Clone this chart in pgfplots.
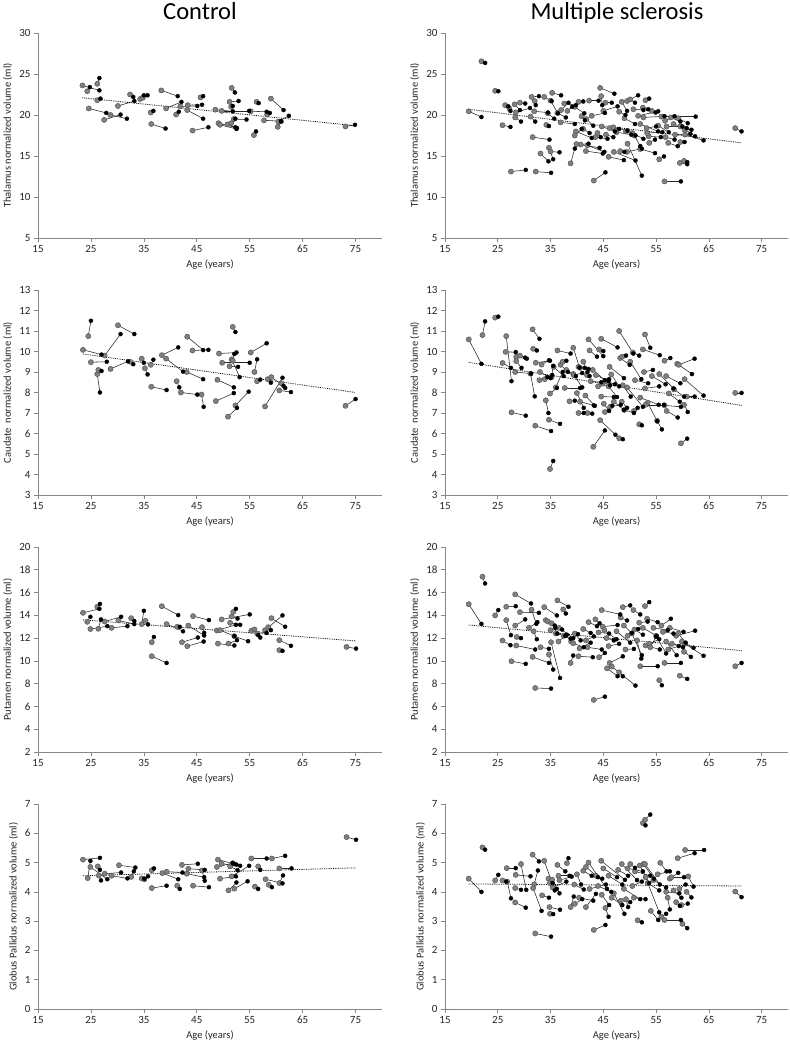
\documentclass[border=0pt]{standalone}
\usepackage{pgfplots}
\usepackage{pgfplotstable}
\pgfplotsset{compat=1.18}
\usepackage{fontspec}
\setmainfont{Carlito}

% a1 v1 (first visit, grey)  a2 v2 (second visit, black)
\pgfplotstableread{
a1 v1 a2 v2
23.4 23.6 26.6 23.0
24.3 22.9 24.8 23.4
24.6 20.8 27.9 20.25
26.2 23.8 26.6 24.5
26.2 21.8 26.8 22.0
27.5 19.4 30.6 20.05
28.7 20.0 31.8 19.55
30.1 21.1 33.2 21.7
32.4 22.5 33.0 22.2
34.3 21.95 35.0 22.4
34.8 22.1 35.7 22.4
36.3 20.3 36.8 20.5
36.4 18.9 39.1 18.35
38.3 23.0 41.4 22.3
39.2 20.8 42.1 21.6
41.1 20.05 41.6 20.4
41.9 21.05 45.1 21.1
43.2 20.6 46.2 19.55
43.3 21.2 46.0 21.25
44.2 18.1 47.2 18.5
45.7 22.15 46.2 22.3
48.5 20.65 51.8 20.45
49.1 19.0 52.3 18.5
49.4 18.8 52.5 18.3
49.7 20.5 54.9 20.5
50.8 18.85 52.6 18.4
51.2 21.6 52.9 21.7
51.5 21.0 51.8 21.1
51.6 23.3 52.2 22.75
51.5 19.0 52.3 19.55
52.0 19.5 54.4 19.45
55.2 20.45 58.2 20.4
55.8 17.55 56.2 18.0
56.3 21.6 56.7 21.45
57.7 19.35 60.9 19.25
58.3 20.05 58.8 20.25
59.0 22.0 61.4 20.6
60.4 19.2 62.4 19.9
60.3 18.55 61.0 19.2
73.1 18.6 74.9 18.8
}\ctT

\pgfplotstableread{
a1 v1 a2 v2
23.5 10.08 27.0 9.85
24.5 10.75 25.0 11.5
25.0 9.48 28.0 9.5
26.2 8.9 26.7 8.0
26.4 9.1 27.0 9.05
27.6 9.8 30.6 10.85
28.7 9.15 32.0 9.52
30.1 11.28 33.2 10.85
32.4 9.5 33.0 9.38
34.6 9.65 35.0 9.45
35.2 9.18 35.7 8.88
36.3 9.35 36.8 9.6
36.4 8.28 39.3 8.12
38.4 9.82 41.5 10.2
39.2 9.65 42.4 9.02
41.2 8.55 41.7 8.25
42.0 8.0 45.1 7.9
43.1 9.0 46.2 8.65
43.2 10.72 46.2 10.07
44.2 10.05 47.2 10.08
45.9 7.9 46.3 7.3
48.6 7.58 52.0 7.97
48.9 8.62 52.0 8.25
49.2 9.9 52.5 9.95
49.8 9.45 55.0 9.45
50.9 6.82 52.6 7.25
51.2 9.28 52.8 9.25
51.6 9.62 53.1 8.75
51.8 11.2 52.3 10.95
51.8 9.55 52.1 9.88
52.3 7.37 54.8 8.04
55.2 9.95 58.2 10.4
55.9 9.0 56.4 9.62
56.4 8.55 57.0 8.63
57.9 7.32 61.2 8.72
58.4 8.65 59.0 8.48
59.1 8.75 61.4 8.32
60.6 8.1 62.8 8.02
61.0 8.45 61.7 8.22
73.1 7.35 75.0 7.68
}\ctC

\pgfplotstableread{
a1 v1 a2 v2
23.5 14.22 26.6 14.57
24.3 13.43 24.9 13.87
24.9 12.8 28.1 13.05
26.2 14.75 26.7 15.0
26.4 12.82 26.9 13.64
27.6 13.46 30.7 13.87
28.9 12.9 31.9 13.05
30.2 13.55 33.2 13.23
32.6 13.75 33.2 13.5
34.6 13.23 35.0 14.4
35.3 13.52 35.8 13.2
36.5 11.64 36.9 12.1
36.5 10.41 39.3 9.82
38.4 14.8 41.5 14.02
39.3 13.23 42.4 12.6
41.3 12.99 41.8 12.99
42.2 11.64 45.2 12.05
43.4 13.1 46.4 12.23
43.2 11.29 46.3 11.7
44.3 13.93 47.3 13.58
46.0 12.96 46.4 12.46
48.8 12.67 52.4 13.17
49.0 11.52 52.1 11.35
49.4 12.7 52.1 12.17
49.7 13.64 55.0 14.08
51.0 11.52 52.6 11.82
51.3 13.34 53.2 13.17
51.6 13.9 52.7 13.72
51.9 14.3 52.4 14.57
52.1 12.17 54.7 11.73
55.3 12.64 58.2 12.46
55.9 12.76 56.6 12.26
56.4 12.4 57.0 12.05
57.9 12.7 61.2 13.99
58.5 12.96 59.0 12.7
59.1 13.75 61.7 13.0
60.6 11.82 62.8 11.32
60.6 10.94 61.2 10.88
73.3 11.23 75.1 11.08
}\ctP

\pgfplotstableread{
a1 v1 a2 v2
23.5 5.1 26.7 5.16
24.4 4.47 24.9 5.06
24.9 4.85 28.1 4.43
26.3 4.87 26.7 4.75
26.5 4.56 26.9 4.39
27.6 4.62 30.7 4.66
28.9 4.55 31.9 4.46
30.3 4.91 33.4 4.83
32.6 4.51 33.1 4.7
34.6 4.46 35.1 4.45
35.1 4.43 35.8 4.53
36.5 4.74 36.9 4.8
36.5 4.13 39.3 4.21
38.5 4.64 41.5 4.43
39.3 4.69 42.3 4.66
41.3 4.21 41.8 4.1
42.2 4.92 45.2 4.96
43.1 4.62 46.4 4.5
43.4 4.79 46.5 4.75
44.3 4.21 47.3 4.16
46.0 4.73 46.5 4.38
48.8 4.85 51.8 4.98
49.0 5.1 52.1 4.95
49.4 4.45 52.4 4.53
49.7 4.96 53.2 4.89
51.0 4.05 52.5 4.32
51.3 4.87 52.7 4.74
51.6 4.53 54.9 4.89
51.8 4.98 52.5 4.93
52.1 4.11 54.6 4.36
55.3 5.14 58.2 5.14
56.0 4.18 56.6 4.1
56.6 4.87 57.0 4.75
58.0 4.43 61.2 4.29
58.6 4.24 59.2 4.16
59.2 5.14 61.7 5.23
60.6 4.3 61.3 4.56
60.6 4.8 62.9 4.8
73.3 5.87 75.1 5.78
}\ctG

\pgfplotstableread{
a1 v1 a2 v2
19.5 20.45 21.9 19.75
21.9 26.55 22.6 26.35
24.5 22.95 25.1 22.9
25.9 18.75 27.4 18.55
26.4 21.2 27.0 21.05
27.2 20.8 27.4 20.5
28.2 21.3 29.2 20.6
28.3 19.7 29.4 19.2
28.4 20.3 31.1 20.85
29.2 21.5 30.2 21.4
31.4 22.2 32.8 22.3
31.9 20.45 34.5 20.3
32.0 21.7 32.2 21.2
31.2 19.8 32.1 19.2
33.8 22.2 35.2 21.7
34.5 20.2 35.7 19.55
34.2 18.8 34.7 18.65
35.0 21.75 36.4 20.2
35.3 22.7 37.0 22.4
36.3 20.25 37.9 19.7
36.9 19.1 39.6 18.9
37.0 20.6 38.4 21.5
37.6 21.4 39.8 21.2
38.2 20.5 39.1 21.0
39.6 21.0 41.4 20.2
39.8 18.0 42.8 17.2
39.6 17.5 40.9 18.3
40.3 21.6 41.2 21.65
40.9 19.85 41.5 19.35
41.2 18.3 42.4 17.8
41.8 19.5 43.1 18.7
42.3 21.75 44.1 21.75
42.8 19.9 45.3 20.25
43.5 17.3 45.8 17.1
43.9 17.8 44.5 17.3
44.6 22.3 44.8 21.2
45.4 21.5 46.6 21.5
44.7 18.6 47.2 18.0
45.0 20.5 47.7 21.05
45.5 17.6 46.9 17.3
46.2 18.4 48.0 18.3
46.9 18.5 49.6 18.1
47.5 17.9 50.3 17.6
48.0 20.4 49.2 20.0
48.5 21.6 49.5 20.5
49.0 19.6 51.0 18.9
49.5 21.7 51.6 22.4
50.1 21.9 51.0 21.5
50.7 20.7 52.6 20.6
49.3 18.0 51.1 17.5
50.5 17.8 52.6 17.1
50.9 17.5 52.0 16.2
51.6 19.9 55.4 20.45
52.6 19.7 56.6 19.85
52.0 18.9 55.4 18.0
52.5 20.9 53.5 20.7
53.0 21.8 53.7 22.0
53.2 18.4 55.0 18.6
53.6 17.4 55.9 17.3
53.7 16.6 54.8 17.0
53.3 17.8 56.2 17.9
54.2 20.5 54.9 20.3
55.4 18.7 57.4 17.9
55.6 14.6 56.5 14.95
56.0 19.8 62.5 19.8
56.7 19.3 58.5 19.85
57.0 18.6 60.0 18.6
57.3 16.6 59.1 16.2
57.8 19.7 59.6 19.2
58.3 18.9 60.8 18.4
58.6 17.6 61.5 17.7
59.2 19.6 61.0 19.0
59.6 18.6 62.4 17.4
60.4 18.2 61.7 18.2
60.5 17.6 64.0 16.9
59.6 16.7 60.4 16.7
56.8 17.3 58.5 17.0
52.0 15.85 54.8 15.35
48.2 15.6 49.0 15.5
49.5 15.5 52.3 15.9
40.7 16.4 42.2 16.5
42.0 16.3 45.2 15.5
39.9 16.45 44.3 16.0
41.7 15.6 44.9 15.3
46.0 14.9 48.9 14.5
49.6 16.5 52.3 12.6
47.0 15.5 51.1 14.45
38.8 14.1 39.6 15.9
27.5 13.1 30.3 13.3
32.2 13.1 35.1 12.95
31.6 17.3 34.8 17.0
33.1 15.3 34.6 14.35
34.7 16.0 35.5 14.6
35.0 15.55 36.7 15.45
43.2 12.0 45.4 13.0
56.6 11.9 59.7 11.9
59.5 14.15 60.9 14.0
60.3 14.4 60.9 14.25
70.0 18.4 71.2 18.0
44.4 23.3 47.1 22.6
}\msT

\pgfplotstableread{
a1 v1 a2 v2
19.5 10.59 21.9 9.40
22.1 10.80 22.6 11.47
24.5 11.65 25.1 11.70
25.9 9.44 27.5 9.20
26.6 10.75 27.6 8.55
26.5 9.98 28.4 9.97
27.6 7.03 30.3 6.87
28.5 9.74 30.5 9.65
28.5 9.53 29.5 9.20
28.3 9.00 31.3 8.92
29.2 9.80 30.2 9.70
31.6 11.08 32.9 10.62
31.7 10.13 32.4 10.05
32.1 6.38 35.1 6.12
31.2 8.92 32.0 7.81
32.2 9.45 34.9 9.55
33.3 9.36 34.7 9.57
34.1 7.62 34.6 7.00
34.7 6.67 36.8 6.47
34.9 4.27 35.5 4.66
34.9 7.95 36.2 8.22
33.9 8.65 35.3 8.85
35.2 8.75 35.5 9.30
35.6 9.25 37.5 8.80
36.3 10.05 38.8 9.90
37.7 8.22 40.6 8.22
36.9 9.35 38.3 9.00
37.3 9.50 38.0 9.55
39.3 10.18 40.5 9.22
38.6 7.57 39.6 7.60
39.3 8.90 41.0 8.25
40.0 7.97 41.3 7.25
40.3 7.00 41.3 7.00
42.0 7.00 42.9 6.97
40.6 7.55 43.2 7.37
41.2 9.50 42.0 9.00
40.3 9.25 41.5 9.20
41.9 8.85 42.4 8.80
42.2 10.59 45.0 9.77
42.4 10.05 43.8 9.75
44.2 10.10 45.0 10.02
43.1 5.35 45.3 6.15
44.6 10.62 47.7 10.20
43.0 9.10 45.3 8.60
43.6 8.85 46.0 8.55
44.4 6.65 47.3 5.94
45.1 7.45 46.1 7.10
44.6 7.80 47.0 7.78
46.2 9.25 48.9 8.70
46.5 8.88 48.0 8.30
46.0 8.30 47.6 7.78
48.0 5.77 48.7 5.72
48.0 11.00 50.7 9.90
48.2 9.68 50.0 9.35
48.6 9.75 49.3 9.80
48.7 8.35 50.2 7.80
48.5 7.55 49.5 7.25
49.0 7.15 50.8 7.00
49.5 8.25 52.5 7.30
50.1 9.50 52.2 8.65
50.6 9.95 51.8 9.80
50.8 7.10 51.5 7.25
51.0 8.60 53.5 8.45
51.8 6.45 52.3 6.40
52.0 7.75 55.5 7.40
52.9 10.83 53.9 10.18
52.5 10.10 55.7 9.82
52.7 9.00 54.4 9.10
52.9 8.20 55.6 8.30
53.4 7.50 55.2 6.60
53.0 7.40 56.5 7.40
54.2 8.80 56.8 8.40
55.2 6.62 56.1 6.20
55.6 8.90 58.3 8.20
56.6 9.55 57.7 9.68
56.9 8.80 59.6 8.45
57.0 7.10 59.1 6.78
57.4 7.95 59.5 7.55
58.4 8.15 60.3 7.80
56.6 7.37 59.7 7.30
59.7 5.52 60.9 5.75
59.0 9.40 61.8 8.90
59.3 9.35 62.3 9.65
60.4 8.65 64.0 7.85
60.3 7.40 61.0 7.05
60.8 7.80 62.3 7.80
70.0 7.98 71.2 7.98
44.9 8.45 46.1 8.65
45.5 8.55 47.2 8.40
47.0 7.55 48.9 7.15
46.3 7.30 48.3 7.40
45.3 7.05 46.7 7.35
41.6 7.85 43.4 7.35
38.0 9.10 39.8 8.80
39.4 8.85 41.0 8.95
40.6 9.20 42.2 9.15
42.6 8.55 44.6 8.50
44.0 8.30 46.3 8.35
36.0 8.25 37.3 9.00
33.0 9.00 35.0 8.70
32.9 8.60 34.4 8.75
}\msC

\pgfplotstableread{
a1 v1 a2 v2
19.5 14.98 21.9 13.25
22.1 17.39 22.6 16.80
24.5 13.99 25.1 14.46
25.9 11.79 27.4 11.38
26.6 13.58 27.5 12.26
26.6 14.75 28.4 14.80
27.6 9.97 30.3 9.74
28.3 15.84 31.3 15.04
28.3 13.10 30.2 13.64
28.6 12.10 29.4 12.00
28.5 11.35 32.1 11.00
29.2 14.28 32.8 14.22
31.4 14.50 32.3 13.25
32.1 7.62 35.1 7.57
31.6 10.35 34.7 9.82
31.8 12.60 32.4 11.90
33.1 11.20 34.7 11.06
33.8 14.72 36.2 13.99
34.1 13.58 35.8 13.10
34.7 10.56 35.5 9.24
35.1 11.64 36.8 8.50
34.5 13.45 35.9 12.90
35.2 13.30 36.3 12.40
35.0 12.70 37.2 12.75
36.3 15.31 38.4 14.75
37.4 14.52 37.9 14.16
36.0 12.40 37.8 12.20
36.6 12.90 39.3 12.00
37.5 12.20 38.8 11.95
38.8 9.82 39.3 10.47
38.9 11.70 40.2 12.35
39.3 11.55 41.3 11.20
39.6 12.40 40.7 11.80
40.3 10.41 43.0 10.32
40.5 11.10 42.6 11.60
41.2 12.80 42.6 12.45
41.7 11.80 43.2 12.15
42.0 11.20 44.7 11.00
42.2 13.40 43.8 13.05
43.2 6.57 45.3 6.86
43.5 13.65 44.3 13.30
44.1 12.50 46.1 12.40
44.7 14.46 48.2 14.08
44.2 10.32 45.3 10.70
44.9 13.00 47.7 13.15
45.2 12.70 47.5 11.90
45.6 12.00 47.0 11.80
46.0 11.30 48.0 11.50
46.2 9.82 48.7 10.40
45.7 9.35 47.7 8.65
48.0 9.00 48.7 8.65
46.6 9.50 51.1 7.83
47.5 12.60 50.1 11.60
48.3 13.80 49.5 13.55
48.7 14.72 50.1 14.87
48.9 13.10 50.4 12.45
49.2 11.00 50.8 11.05
49.6 12.20 51.6 12.80
50.7 14.46 52.0 14.08
50.4 12.40 52.3 10.50
50.9 12.75 52.5 12.30
51.4 11.80 52.2 10.20
51.8 13.35 53.4 13.45
52.0 9.53 55.3 9.53
52.9 14.81 53.7 15.16
52.5 12.90 55.1 12.20
53.0 11.35 55.7 11.00
53.3 13.70 55.3 13.40
53.7 11.50 55.6 11.90
53.9 11.20 55.0 12.10
54.5 12.90 57.2 12.70
55.0 12.20 56.9 10.65
55.6 8.30 56.1 7.86
56.0 13.10 57.8 13.70
56.3 12.55 58.3 12.40
56.6 9.82 59.7 9.82
56.9 11.70 58.9 10.50
57.3 11.00 59.3 11.30
57.6 12.90 60.2 12.55
58.0 11.50 60.1 11.20
58.8 12.20 62.4 12.65
59.2 12.40 60.6 11.60
59.5 8.70 60.9 8.42
59.9 11.70 62.1 11.15
60.3 10.80 61.6 10.35
60.5 11.50 64.0 10.45
70.0 9.53 71.2 9.82
36.5 11.70 38.1 12.30
30.9 12.90 32.5 13.40
}\msP

\pgfplotstableread{
a1 v1 a2 v2
19.5 4.45 21.9 4.00
22.1 5.52 22.6 5.44
24.5 4.39 25.1 4.58
25.9 4.39 26.6 4.35
26.7 4.81 28.4 4.81
26.8 4.35 27.5 3.78
28.4 4.58 31.2 4.53
29.4 4.95 30.4 4.07
28.3 4.13 29.4 4.07
28.3 3.64 30.3 3.46
31.6 5.27 32.8 5.04
31.9 4.26 32.6 4.73
31.7 4.13 33.3 3.35
32.1 2.58 35.1 2.47
33.8 5.06 35.8 4.05
33.4 3.88 34.7 3.80
34.8 3.48 36.8 3.39
34.9 3.25 35.5 3.24
34.6 4.45 35.4 4.30
34.9 4.30 36.2 4.10
35.3 4.42 36.7 3.95
35.4 4.15 38.0 4.35
36.3 4.92 37.8 4.70
36.5 4.55 38.6 4.55
36.7 4.40 39.0 4.52
38.1 4.98 38.4 5.15
38.8 3.48 39.4 3.84
39.5 4.25 41.3 4.08
39.6 3.59 41.0 3.75
40.0 4.60 40.8 4.25
40.4 3.80 43.1 3.70
41.2 4.72 42.8 4.55
41.7 3.48 43.6 3.93
41.7 4.85 44.0 4.50
42.2 5.00 45.7 4.10
42.4 4.10 45.5 4.25
43.2 2.70 45.4 2.87
43.6 4.55 44.8 4.45
44.0 4.20 46.5 4.00
44.6 5.06 49.1 4.41
44.7 3.90 46.1 3.55
45.0 4.80 47.6 4.50
45.4 3.45 46.0 3.15
46.0 4.55 48.6 4.25
46.6 3.80 48.6 3.55
47.0 3.95 49.0 3.25
47.8 4.75 49.7 4.55
48.3 3.70 50.1 3.65
48.5 4.95 51.4 4.40
48.9 4.10 52.0 3.75
49.3 3.75 49.7 3.48
49.6 4.80 52.5 4.70
50.1 4.95 51.0 4.82
50.5 4.20 52.3 4.35
50.8 3.80 53.0 3.75
51.0 4.70 53.9 4.55
51.5 3.03 52.3 2.96
51.9 4.90 53.7 4.30
52.5 6.35 53.0 6.27
52.9 6.46 53.9 6.64
52.6 4.95 54.6 4.45
52.9 4.95 55.7 4.25
53.0 4.50 55.6 3.30
53.4 4.30 55.6 4.05
54.0 3.35 55.4 3.04
54.5 4.40 56.9 4.15
55.3 4.60 57.6 4.70
55.8 4.99 57.0 4.70
56.0 3.15 56.9 3.25
56.6 3.04 59.7 3.04
56.9 4.00 59.4 3.95
57.2 3.80 57.6 3.40
57.6 4.45 59.2 4.65
57.9 4.50 60.3 4.50
58.3 4.05 59.8 3.80
58.8 3.65 59.5 3.52
59.1 5.15 62.3 5.32
59.4 4.10 60.6 4.25
59.8 3.55 61.0 3.60
60.0 2.91 60.9 2.76
60.5 5.43 64.1 5.43
61.1 4.53 62.1 4.18
60.8 4.00 61.7 3.81
70.0 4.01 71.2 3.82
}\msG

\definecolor{axgray}{HTML}{868686}
\definecolor{txt}{HTML}{262626}

\pgfplotsset{
  panel/.style={
    scale only axis, height=205pt, anchor=south west,
    xmin=15, xmax=80, xtick={15,25,...,75},
    axis x line*=bottom, axis y line*=left,
    axis line style={draw=axgray, line width=0.6pt, -},
    tick align=outside, major tick length=4pt,
    tick style={draw=axgray, line width=0.6pt},
    minor tick num=0,
    ticklabel style={font=\fontsize{11}{13}\selectfont, text=txt},
    /pgf/number format/assume math mode=true,
    xlabel={Age (years)},
    label style={font=\fontsize{10.5}{12}\selectfont, text=txt},
  },
  pairline/.style={quiver={u=\thisrow{a2}-\thisrow{a1}, v=\thisrow{v2}-\thisrow{v1}}, draw=black!85, line width=0.55pt, -},
  firstv/.style={only marks, mark=*, mark size=2.6pt, mark options={fill=black!50, draw=black!70, line width=0.4pt}},
  secondv/.style={only marks, mark=*, mark size=2.0pt, mark options={fill=black, draw=black}},
  trend/.style={black, densely dotted, line width=0.8pt},
}

\newcommand{\pairs}[1]{%
  \addplot[pairline] table[x=a1,y=v1] {#1};
  \addplot[firstv] table[x=a1,y=v1] {#1};
  \addplot[secondv] table[x=a2,y=v2] {#1};
}

\begin{document}
\begin{tikzpicture}[x=1pt,y=1pt]
\fill[white] (0,0) rectangle (790,1045);
\useasboundingbox (0,0) rectangle (790,1045);

\node[font=\fontsize{24.5}{28}\selectfont, text=black, anchor=base] at (200,1025) {Control};
\node[font=\fontsize{24.5}{28}\selectfont, text=black, anchor=base] at (617,1025) {Multiple sclerosis};

% ---------- Thalamus ----------
\begin{axis}[panel, at={(38pt,807pt)}, width=344pt, ymin=5, ymax=30, ytick={5,10,...,30},
  ylabel={Thalamus normalized volume (ml)}]
  \pairs{\ctT}
  \addplot[trend] coordinates {(23.4,22.1) (74.9,18.7)};
\end{axis}
\begin{axis}[panel, at={(445pt,807pt)}, width=343pt, ymin=5, ymax=30, ytick={5,10,...,30},
  ylabel={Thalamus normalized volume (ml)}]
  \pairs{\msT}
  \addplot[trend] coordinates {(19.5,20.7) (71.2,16.6)};
\end{axis}

% ---------- Caudate ----------
\begin{axis}[panel, at={(38pt,550pt)}, width=344pt, ymin=3, ymax=13, ytick={3,4,...,13},
  ylabel={Caudate\ \ normalized volume (ml)}]
  \pairs{\ctC}
  \addplot[trend] coordinates {(23.5,9.88) (75.0,8.0)};
\end{axis}
\begin{axis}[panel, at={(445pt,550pt)}, width=343pt, ymin=3, ymax=13, ytick={3,4,...,13},
  ylabel={Caudate\ \ normalized volume (ml)}]
  \pairs{\msC}
  \addplot[trend] coordinates {(19.5,9.47) (71.2,7.37)};
\end{axis}

% ---------- Putamen ----------
\begin{axis}[panel, at={(38pt,293pt)}, width=344pt, ymin=2, ymax=20, ytick={2,4,...,20},
  ylabel={Putamen normalized volume (ml)}]
  \pairs{\ctP}
  \addplot[trend] coordinates {(23.5,13.6) (75.1,11.75)};
\end{axis}
\begin{axis}[panel, at={(445pt,293pt)}, width=343pt, ymin=2, ymax=20, ytick={2,4,...,20},
  ylabel={Putamen normalized volume (ml)}]
  \pairs{\msP}
  \addplot[trend] coordinates {(19.5,13.15) (71.2,10.9)};
\end{axis}

% ---------- Globus Pallidus ----------
\begin{axis}[panel, at={(38pt,36pt)}, width=344pt, ymin=0, ymax=7, ytick={0,1,...,7},
  ylabel={Globus Pallidus normalized volume (ml)}]
  \pairs{\ctG}
  \addplot[trend] coordinates {(23.5,4.55) (75.1,4.82)};
\end{axis}
\begin{axis}[panel, at={(445pt,36pt)}, width=343pt, ymin=0, ymax=7, ytick={0,1,...,7},
  ylabel={Globus Pallidus normalized volume (ml)}]
  \pairs{\msG}
  \addplot[trend] coordinates {(19.5,4.27) (71.2,4.2)};
\end{axis}
\end{tikzpicture}
\end{document}
